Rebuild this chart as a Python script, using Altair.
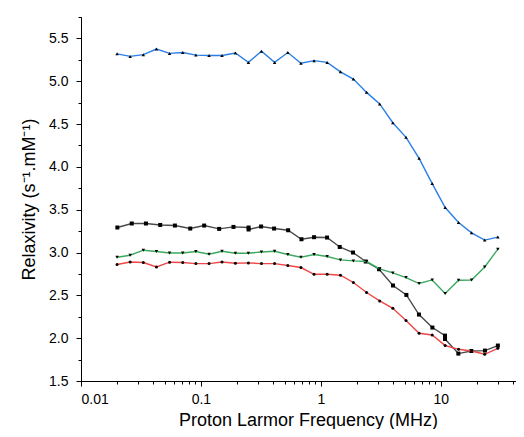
import altair as alt
import pandas as pd

# frequency grid (MHz) shared by blue, green and red series
freq = [0.02, 0.0257, 0.0331, 0.0426, 0.0548, 0.0706, 0.0908, 0.117, 0.150, 0.194,
        0.249, 0.320, 0.412, 0.531, 0.683, 0.879, 1.13, 1.46, 1.87, 2.41,
        3.10, 3.99, 5.14, 6.61, 8.50, 10.9, 14.1, 18.1, 23.3, 30.0]

blue = [5.32, 5.29, 5.31, 5.375, 5.325, 5.335, 5.305, 5.30, 5.30, 5.33,
        5.22, 5.35, 5.22, 5.335, 5.21, 5.24, 5.22, 5.11, 5.025, 4.87,
        4.735, 4.515, 4.345, 4.10, 3.805, 3.525, 3.35, 3.23, 3.145, 3.18]

green = [2.945, 2.968, 3.027, 3.012, 2.995, 2.995, 3.012, 2.98, 3.015, 2.992,
         2.992, 3.007, 3.015, 2.977, 2.945, 2.977, 2.953, 2.914, 2.902, 2.895,
         2.808, 2.762, 2.708, 2.638, 2.68, 2.521, 2.676, 2.68, 2.832, 3.039]

red = [2.86, 2.89, 2.883, 2.832, 2.887, 2.883, 2.871, 2.871, 2.89, 2.875,
       2.879, 2.871, 2.871, 2.848, 2.825, 2.746, 2.746, 2.735, 2.65, 2.533,
       2.435, 2.349, 2.206, 2.057, 2.037, 1.914, 1.87, 1.85, 1.812, 1.882]

# black series has its own frequency grid
black_freq = [0.0201, 0.0265, 0.0348, 0.0458, 0.0607, 0.0815, 0.1065, 0.142, 0.187, 0.250,
              0.250, 0.318, 0.408, 0.534, 0.690, 0.879, 1.128, 1.439, 1.858, 2.371,
              3.062, 4.005, 5.176, 6.59, 8.53, 10.87, 10.87, 14.05, 18.03, 23.4, 30.0]
black = [3.292, 3.339, 3.339, 3.322, 3.315, 3.280, 3.315, 3.276, 3.299, 3.292,
         3.269, 3.304, 3.280, 3.260, 3.155, 3.179, 3.175, 3.065, 3.0, 2.895,
         2.805, 2.615, 2.505, 2.276, 2.124, 2.03, 1.99, 1.82, 1.85, 1.855, 1.914]

x_major = [0.01, 0.1, 1, 10]
x_minor = [0.02, 0.03, 0.04, 0.05, 0.06, 0.07, 0.08, 0.09,
           0.2, 0.3, 0.4, 0.5, 0.6, 0.7, 0.8, 0.9,
           2, 3, 4, 5, 6, 7, 8, 9, 20, 30, 40]
y_major = [1.5, 2.0, 2.5, 3.0, 3.5, 4.0, 4.5, 5.0, 5.5]
y_minor = [1.75, 2.25, 2.75, 3.25, 3.75, 4.25, 4.75, 5.25, 5.75]

FONT = "Liberation Sans"

def frame(xs, ys):
    return pd.DataFrame({"x": xs, "y": ys, "i": list(range(len(xs)))})

xscale = alt.Scale(type="log", domain=[0.01, 42.5], nice=False)
yscale = alt.Scale(domain=[1.5, 5.75], nice=False, zero=False)

series = [
    (frame(black_freq, black), "#4a4a4a", "square", 16),
    (frame(freq, green), "#3aaa5f", "triangle-down", 12),
    (frame(freq, red), "#f04646", "circle", 9),
    (frame(freq, blue), "#2a7fe6", "triangle-up", 12),
]

layers = []
for df, color, shape, size in series:
    base = alt.Chart(df).encode(
        x=alt.X("x:Q", scale=xscale, axis=None),
        y=alt.Y("y:Q", scale=yscale, axis=None),
        order=alt.Order("i:Q"),
    )
    layers.append(base.mark_line(color=color, strokeWidth=1.4))
    layers.append(base.mark_point(shape=shape, size=size, filled=True,
                                  color="black", opacity=1))

axis_common = dict(domainColor="black", domainWidth=1, tickColor="black",
                   tickWidth=1, grid=False, labelColor="black", labelFont=FONT,
                   titleFont=FONT, titleColor="black", titleFontWeight="normal")

major_x = alt.Axis(orient="bottom", values=x_major, format="~g", tickSize=5,
                   labelFontSize=14, labelPadding=6,
                   title="Proton Larmor Frequency (MHz)", titleFontSize=18,
                   titleX=227, titleY=44, titleAlign="center",
                   titleBaseline="alphabetic", **axis_common)
major_y = alt.Axis(orient="left", values=y_major, format=".1f", tickSize=5,
                   labelFontSize=14, labelPadding=8,
                   title="Relaxivity (s⁻¹.mM⁻¹)", titleFontSize=18,
                   titleX=-47, titleY=182, titleAngle=-90, titleAlign="center",
                   titleBaseline="alphabetic", **axis_common)
minor_x = alt.Axis(orient="bottom", values=x_minor, tickSize=3, labels=False,
                   title="", **axis_common)
minor_y = alt.Axis(orient="left", values=y_minor, tickSize=3, labels=False,
                   title="", **axis_common)

red_df = frame(freq, red)
major_layer = alt.Chart(red_df).mark_point(opacity=0).encode(
    x=alt.X("x:Q", scale=xscale, axis=major_x),
    y=alt.Y("y:Q", scale=yscale, axis=major_y),
)
minor_layer = alt.Chart(red_df).mark_point(opacity=0).encode(
    x=alt.X("x:Q", scale=xscale, axis=minor_x),
    y=alt.Y("y:Q", scale=yscale, axis=minor_y),
)

chart = alt.layer(*layers, major_layer, minor_layer).resolve_axis(
    x="independent", y="independent"
).properties(
    width=435, height=364,
    padding={"left": 73, "top": 9, "right": 0, "bottom": 48},
    autosize=alt.AutoSizeParams(type="none"),
    background="white",
).configure_view(stroke=None)

chart.save("out.html", embed_options={"renderer": "svg", "actions": False})
